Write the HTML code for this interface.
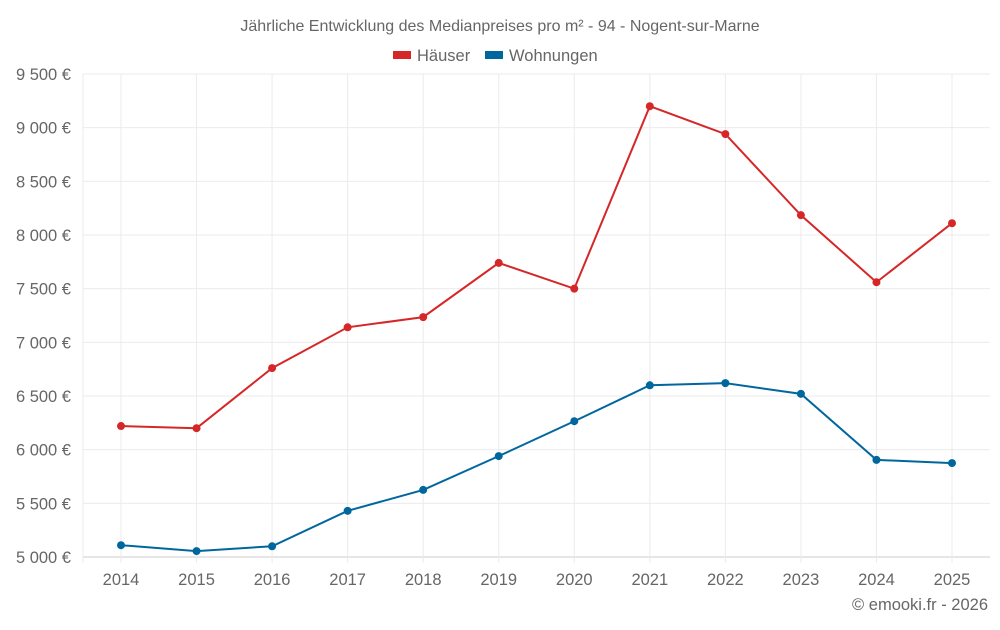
<!DOCTYPE html>
<html><head><meta charset="utf-8"><style>
body{margin:0;background:#fff;width:1000px;height:625px;overflow:hidden;font-family:"Liberation Sans",sans-serif}
svg text{font-family:"Liberation Sans",sans-serif;fill:#666}
</style></head><body>
<svg id="chart" width="1000" height="625" xmlns="http://www.w3.org/2000/svg">
<text x="500" y="31" text-anchor="middle" font-size="16">Jährliche Entwicklung des Medianpreises pro m² - 94 - Nogent-sur-Marne</text>
<g>
<g><rect x="393" y="51" width="18" height="8" fill="#d62728"/><text x="417" y="61" font-size="16.5">Häuser</text></g>
<g><rect x="485" y="51" width="18" height="8" fill="#00679e"/><text x="509" y="61" font-size="16.5">Wohnungen</text></g>
</g>
<g id="grid"></g><g id="axes"></g><g id="series"></g>
<text x="988" y="610" text-anchor="end" font-size="16.5">© emooki.fr - 2026</text>
</svg>
<script>
const years=[2014,2015,2016,2017,2018,2019,2020,2021,2022,2023,2024,2025];
const haeuser=[6220,6200,6760,7140,7235,7740,7500,9200,8940,8185,7560,8110];
const wohnungen=[5110,5055,5100,5430,5625,5940,6265,6600,6620,6520,5905,5875];
const yTicks=[5000,5500,6000,6500,7000,7500,8000,8500,9000,9500];
const yTickLabels=["5 000 €","5 500 €","6 000 €","6 500 €","7 000 €","7 500 €","8 000 €","8 500 €","9 000 €","9 500 €"];
const NS="http://www.w3.org/2000/svg";
const L=83,R=990,T=74,B=557;
const x=i=>121+i*(952-121)/(years.length-1);
const y=v=>B-(v-5000)*(B-T)/4500;
function mk(tag,attrs,parent){const e=document.createElementNS(NS,tag);for(const k in attrs)e.setAttribute(k,attrs[k]);parent.appendChild(e);return e;}
const grid=document.getElementById('grid'),axes=document.getElementById('axes'),series=document.getElementById('series');
yTicks.forEach((t,i)=>{
 const l=mk('line',{x1:L,x2:R,y1:y(t),y2:y(t),stroke:i==0?'#ccc':'#ebebeb','stroke-width':1},grid);
 
 
 const tx=mk('text',{x:71,y:y(t)+6,'text-anchor':'end','font-size':16.5},axes);tx.textContent=yTickLabels[i];
 
 
});
const yAxis=mk('line',{x1:L,x2:L,y1:T,y2:B+6,stroke:'#ebebeb'},grid);


years.forEach((yr,i)=>{
 const l=mk('line',{x1:x(i),x2:x(i),y1:T,y2:B+6,stroke:'#ebebeb'},grid);
 
 
 const tx=mk('text',{x:x(i),y:585,'text-anchor':'middle','font-size':16.5},axes);tx.textContent=yr;
 
 
});
function draw(data,color,name){
 const p=mk('polyline',{points:data.map((v,i)=>x(i)+','+y(v)).join(' '),fill:'none',stroke:color,'stroke-width':2},series);
 
 
 data.forEach((v,i)=>{const c=mk('circle',{cx:x(i),cy:y(v),r:4,fill:color},series);
 
 });
}
draw(haeuser,'#d62728','haeuser');
draw(wohnungen,'#00679e','wohnungen');
</script>
</body></html>
